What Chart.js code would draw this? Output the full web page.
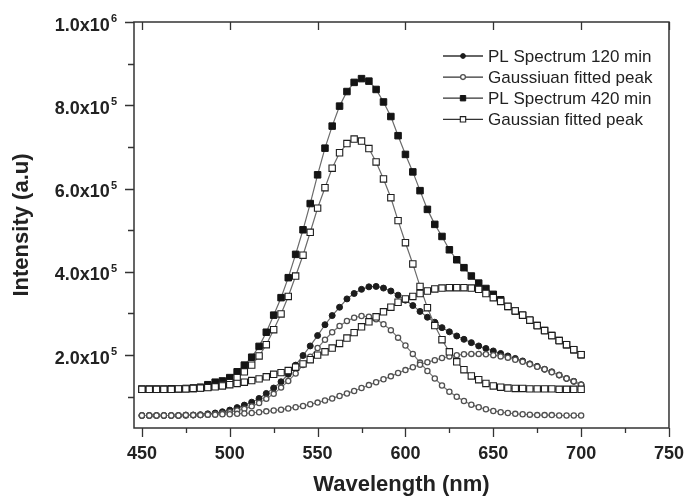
<!DOCTYPE html>
<html>
<head>
<meta charset="utf-8">
<script src="https://cdn.jsdelivr.net/npm/chart.js@4.4.1/dist/chart.umd.min.js"></script>
<style>
  html, body { margin: 0; padding: 0; background: #fff; }
  #wrap { width: 699px; height: 499px; position: relative; }
</style>
</head>
<body>
<div id="wrap"><canvas id="spectra"></canvas></div>
<script>
// wavelength grid (nm), one marker every ~4.2 nm
const wavelength = [450, 454.2, 458.3, 462.5, 466.7, 470.8, 475, 479.2, 483.3, 487.5, 491.7, 495.8, 500,
  504.2, 508.3, 512.5, 516.7, 520.8, 525, 529.2, 533.3, 537.5, 541.7, 545.8, 550,
  554.2, 558.3, 562.5, 566.7, 570.8, 575, 579.2, 583.3, 587.5, 591.7, 595.8, 600,
  604.2, 608.3, 612.5, 616.7, 620.8, 625, 629.2, 633.3, 637.5, 641.7, 645.8, 650,
  654.2, 658.3, 662.5, 666.7, 670.8, 675, 679.2, 683.3, 687.5, 691.7, 695.8, 700];

// intensities, in units of 10^5 a.u.
const pl120 = [0.55, 0.55, 0.55, 0.55, 0.55, 0.55, 0.56, 0.56, 0.57, 0.59, 0.61, 0.64, 0.68,
  0.74, 0.8, 0.87, 0.96, 1.08, 1.21, 1.36, 1.54, 1.76, 1.99, 2.22, 2.47,
  2.73, 2.95, 3.15, 3.35, 3.48, 3.58, 3.64, 3.65, 3.61, 3.54, 3.44, 3.32,
  3.19, 3.05, 2.91, 2.79, 2.66, 2.56, 2.46, 2.38, 2.3, 2.22, 2.16, 2.1,
  2.04, 1.98, 1.92, 1.86, 1.79, 1.73, 1.66, 1.6, 1.52, 1.44, 1.37, 1.29];
const gauss120a = [0.55, 0.55, 0.55, 0.55, 0.55, 0.55, 0.55, 0.56, 0.56, 0.57, 0.58, 0.6, 0.63,
  0.67, 0.71, 0.77, 0.85, 0.95, 1.07, 1.22, 1.38, 1.56, 1.76, 1.96, 2.17,
  2.37, 2.55, 2.7, 2.82, 2.9, 2.94, 2.92, 2.86, 2.74, 2.6, 2.42, 2.23,
  2.03, 1.82, 1.62, 1.44, 1.27, 1.12, 1.0, 0.9, 0.81, 0.75, 0.7, 0.66,
  0.63, 0.61, 0.59, 0.58, 0.57, 0.56, 0.56, 0.56, 0.55, 0.55, 0.55, 0.55];
const gauss120b = [0.55, 0.55, 0.55, 0.55, 0.55, 0.55, 0.56, 0.56, 0.56, 0.57, 0.57, 0.58, 0.58,
  0.59, 0.6, 0.61, 0.63, 0.65, 0.67, 0.69, 0.72, 0.75, 0.78, 0.82, 0.86,
  0.91, 0.96, 1.02, 1.08, 1.14, 1.21, 1.28, 1.35, 1.42, 1.49, 1.57, 1.64,
  1.71, 1.77, 1.83, 1.88, 1.93, 1.97, 2.0, 2.02, 2.03, 2.03, 2.02, 2.0,
  1.97, 1.94, 1.89, 1.84, 1.78, 1.72, 1.66, 1.59, 1.52, 1.44, 1.37, 1.29];
const pl420 = [1.18, 1.18, 1.18, 1.18, 1.19, 1.19, 1.2, 1.21, 1.23, 1.29, 1.35, 1.38, 1.46,
  1.6, 1.76, 1.95, 2.21, 2.55, 2.96, 3.38, 3.86, 4.42, 5.01, 5.64, 6.33,
  6.97, 7.5, 7.98, 8.33, 8.55, 8.64, 8.58, 8.38, 8.08, 7.73, 7.27, 6.82,
  6.4, 5.95, 5.5, 5.14, 4.85, 4.53, 4.29, 4.1, 3.9, 3.73, 3.6, 3.46,
  3.33, 3.17, 3.06, 2.96, 2.84, 2.71, 2.59, 2.47, 2.35, 2.25, 2.13, 2.01];
const gauss420a = [1.18, 1.18, 1.18, 1.18, 1.18, 1.19, 1.19, 1.2, 1.21, 1.23, 1.25, 1.28, 1.34,
  1.46, 1.6, 1.76, 1.98, 2.25, 2.61, 2.99, 3.41, 3.9, 4.4, 4.95, 5.53,
  6.02, 6.49, 6.86, 7.08, 7.19, 7.14, 6.96, 6.64, 6.23, 5.78, 5.23, 4.7,
  4.19, 3.65, 3.14, 2.71, 2.37, 2.08, 1.84, 1.65, 1.5, 1.41, 1.32, 1.26,
  1.23, 1.21, 1.2, 1.2, 1.19, 1.19, 1.19, 1.19, 1.18, 1.18, 1.18, 1.18];
const gauss420b = [1.18, 1.18, 1.18, 1.18, 1.18, 1.19, 1.19, 1.2, 1.21, 1.22, 1.24, 1.26, 1.29,
  1.32, 1.35, 1.39, 1.43, 1.48, 1.54, 1.58, 1.63, 1.71, 1.79, 1.89, 2.0,
  2.08, 2.17, 2.28, 2.41, 2.54, 2.68, 2.8, 2.92, 3.04, 3.15, 3.27, 3.35,
  3.41, 3.48, 3.54, 3.59, 3.61, 3.62, 3.62, 3.62, 3.61, 3.58, 3.48, 3.38,
  3.29, 3.17, 3.06, 2.96, 2.84, 2.71, 2.59, 2.47, 2.35, 2.25, 2.13, 2.01];

const seriesNames = ['PL Spectrum 120 min', 'Gaussiuan fitted peak', 'PL Spectrum 420 min', 'Gaussian fitted peak'];
const xTicks = [450, 500, 550, 600, 650, 700, 750];
const xMinor = [475, 525, 575, 625, 675, 725];
const yTicks = [2, 4, 6, 8, 10];
const yMinor = [1, 3, 5, 7, 9];
const yTickLabels = [['2.0x10', '5'], ['4.0x10', '5'], ['6.0x10', '5'], ['8.0x10', '5'], ['1.0x10', '6']];

const FONT = '"Liberation Sans", Arial, sans-serif';
const pts = arr => wavelength.map((w, i) => ({x: w, y: arr[i]}));

function filledCircles(label, arr) {
  return {label, data: pts(arr), pointStyle: 'circle', pointRadius: 3,
    pointBackgroundColor: '#1c1c1c', pointBorderColor: '#1c1c1c', pointBorderWidth: 1,
    borderColor: '#6a6a6a', borderWidth: 1.2};
}
function openCircles(label, arr) {
  return {label, data: pts(arr), pointStyle: 'circle', pointRadius: 2.6,
    pointBackgroundColor: '#fff', pointBorderColor: '#505050', pointBorderWidth: 1.3,
    borderColor: '#777', borderWidth: 1.2};
}
function filledSquares(label, arr) {
  return {label, data: pts(arr), pointStyle: 'rect', pointRadius: 4.6,
    pointBackgroundColor: '#141414', pointBorderColor: '#141414', pointBorderWidth: 1,
    borderColor: '#6a6a6a', borderWidth: 1.2};
}
function openSquares(label, arr) {
  return {label, data: pts(arr), pointStyle: 'rect', pointRadius: 4.5,
    pointBackgroundColor: '#fff', pointBorderColor: '#1e1e1e', pointBorderWidth: 1.1,
    borderColor: '#6a6a6a', borderWidth: 1.2};
}

function drawMarker(ctx, ds, x, y, r) {
  ctx.beginPath();
  if (ds.pointStyle === 'circle') ctx.arc(x, y, r, 0, Math.PI * 2);
  else ctx.rect(x - r, y - r, 2 * r, 2 * r);
  ctx.fillStyle = ds.pointBackgroundColor;
  ctx.fill();
  ctx.lineWidth = ds.pointBorderWidth;
  ctx.strokeStyle = ds.pointBorderColor;
  ctx.stroke();
}

// frame, tick marks, y labels with exponents, legend
const decorations = {
  id: 'decorations',
  afterDraw(chart) {
    const {ctx, chartArea: a, scales: {x, y}} = chart;
    ctx.save();
    ctx.strokeStyle = '#333';
    ctx.lineWidth = 1.5;
    ctx.strokeRect(a.left, a.top, a.right - a.left, a.bottom - a.top);

    ctx.lineWidth = 1.3;
    ctx.beginPath();
    xTicks.forEach(v => {
      const px = Math.round(x.getPixelForValue(v)) + 0.5;
      ctx.moveTo(px, a.bottom); ctx.lineTo(px, a.bottom + 9);
      ctx.moveTo(px, a.top); ctx.lineTo(px, a.top + 8);
    });
    xMinor.forEach(v => {
      const px = Math.round(x.getPixelForValue(v)) + 0.5;
      ctx.moveTo(px, a.bottom); ctx.lineTo(px, a.bottom + 5);
    });
    yTicks.forEach(v => {
      const py = Math.round(y.getPixelForValue(v)) + 0.5;
      ctx.moveTo(a.left, py); ctx.lineTo(a.left - 9, py);
    });
    yMinor.forEach(v => {
      const py = Math.round(y.getPixelForValue(v)) + 0.5;
      ctx.moveTo(a.left, py); ctx.lineTo(a.left - 6, py);
    });
    ctx.stroke();

    ctx.fillStyle = '#222';
    yTicks.forEach((v, i) => {
      const py = y.getPixelForValue(v);
      const [base, exp] = yTickLabels[i];
      ctx.font = 'bold 11px ' + FONT;
      const ew = ctx.measureText(exp).width;
      ctx.textAlign = 'left';
      ctx.textBaseline = 'alphabetic';
      ctx.fillText(exp, 117 - ew, py);
      ctx.font = 'bold 18px ' + FONT;
      ctx.textAlign = 'right';
      ctx.fillText(base, 116 - ew, py + 8.5);
    });

    seriesNames.forEach((name, i) => {
      const ds = chart.data.datasets.find(d => d.label === name);
      const yb = 62 + i * 21.1;
      const yc = yb - 6;
      ctx.strokeStyle = '#333';
      ctx.lineWidth = 1.3;
      ctx.beginPath();
      ctx.moveTo(443, yc); ctx.lineTo(483, yc);
      ctx.stroke();
      drawMarker(ctx, ds, 463, yc, ds.pointStyle === 'circle' ? 2.4 : 2.7);
      ctx.fillStyle = '#222';
      ctx.font = '17px ' + FONT;
      ctx.textAlign = 'left';
      ctx.textBaseline = 'alphabetic';
      ctx.fillText(name, 488, yb);
    });
    ctx.restore();
  }
};

new Chart(document.getElementById('spectra'), {
  type: 'line',
  data: {
    datasets: [
      openSquares(seriesNames[3], gauss420b),
      openSquares(seriesNames[3], gauss420a),
      filledSquares(seriesNames[2], pl420),
      openCircles(seriesNames[1], gauss120b),
      openCircles(seriesNames[1], gauss120a),
      filledCircles(seriesNames[0], pl120)
    ]
  },
  options: {
    responsive: true,
    maintainAspectRatio: false,
    animation: false,
    layout: {padding: {left: 0, right: 16, top: 22, bottom: 0}},
    plugins: {legend: {display: false}, tooltip: {enabled: false}},
    elements: {line: {tension: 0}},
    scales: {
      x: {
        type: 'linear', min: 445.5, max: 750,
        afterBuildTicks: s => { s.ticks = xTicks.map(v => ({value: v})); },
        afterFit: s => { s.height = 71; },
        grid: {display: false, drawTicks: false},
        border: {display: false},
        ticks: {font: {family: FONT, size: 18, weight: 'bold'}, color: '#222', padding: 15, maxRotation: 0},
        title: {display: true, text: 'Wavelength (nm)', color: '#222',
          font: {family: FONT, size: 22, weight: 'bold'}, padding: {top: 0, bottom: 1}}
      },
      y: {
        type: 'linear', min: 0.25, max: 10,
        afterBuildTicks: s => { s.ticks = yTicks.map(v => ({value: v})); },
        afterFit: s => { s.width = 134; },
        grid: {display: false, drawTicks: false},
        border: {display: false},
        ticks: {display: false},
        title: {display: true, text: 'Intensity (a.u)', color: '#222',
          font: {family: FONT, size: 22, weight: 'bold'}, padding: {top: 9, bottom: 0}}
      }
    }
  },
  plugins: [decorations]
});
</script>
</body>
</html>
